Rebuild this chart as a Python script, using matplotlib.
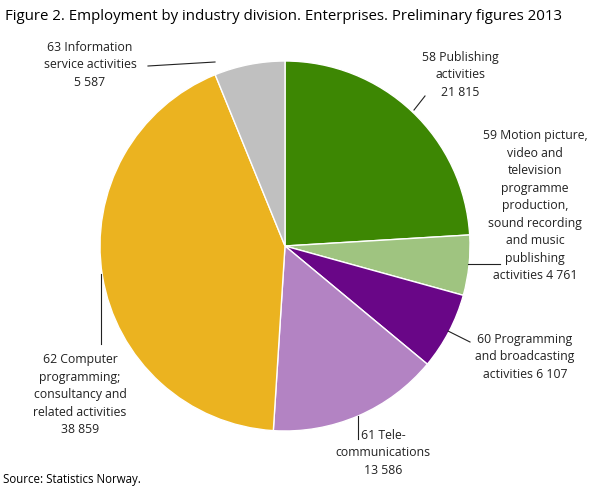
import matplotlib
matplotlib.use("Agg")
import matplotlib.pyplot as plt
import numpy as np

plt.rcParams['font.family'] = ['Open Sans', 'DejaVu Sans']

categories = [
    "58 Publishing\nactivities\n21 815",
    "59 Motion picture,\nvideo and\ntelevision\nprogramme\nproduction,\nsound recording\nand music\npublishing\nactivities 4 761",
    "60 Programming\nand broadcasting\nactivities 6 107",
    "61 Tele-\ncommunications\n13 586",
    "62 Computer\nprogramming;\nconsultancy and\nrelated activities\n38 859",
    "63 Information\nservice activities\n5 587",
]
values = [21815, 4761, 6107, 13586, 38859, 5587]
colors = ["#3d8703", "#9fc480", "#690687", "#b383c3", "#ebb320", "#c0c0c0"]

W, H = 608, 489
fig = plt.figure(figsize=(W / 100, H / 100), dpi=100)
ax = fig.add_axes([0, 0, 1, 1])

def Y(ypx):
    return H - ypx

cx, cy, R = 285, 247, 185
ax.pie(values, colors=colors, startangle=90, counterclock=False,
       center=(cx, Y(cy)), radius=R, frame=True,
       wedgeprops=dict(edgecolor='white', linewidth=1))
ax.set_xlim(0, W)
ax.set_ylim(0, H)
ax.set_aspect('equal')
ax.axis('off')

# label placement (text center px), leader start and end px
label_pos = [(460, 75), (535, 206), (525, 357), (383, 453), (80, 395), (90, 65)]
leader_start = [(414, 111), (468, 265), (448, 332), (358, 417), (101, 275), (215, 63)]
leader_end = [(425, 97), (500, 265), (470, 343), (358, 440), (101, 345), (148, 67)]

for i, lab in enumerate(categories):
    sx, sy = leader_start[i]
    lx, ly = leader_end[i]
    ax.plot([sx, lx], [Y(sy), Y(ly)], color='#222222', lw=0.8)
    tx, ty = label_pos[i]
    ax.text(tx, Y(ty), lab, ha='center', va='center', fontsize=8.8,
            color='#222222', linespacing=1.45)

fig.text(5 / W, 1 - 17 / H, "Figure 2. Employment by industry division. Enterprises. Preliminary figures 2013",
         ha='left', va='center', fontsize=10.8, color='#000000')
fig.text(3 / W, 1 - 480 / H, "Source: Statistics Norway.", ha='left', va='center',
         fontsize=8.3, color='#000000')

fig.savefig("out.png", dpi=100)
